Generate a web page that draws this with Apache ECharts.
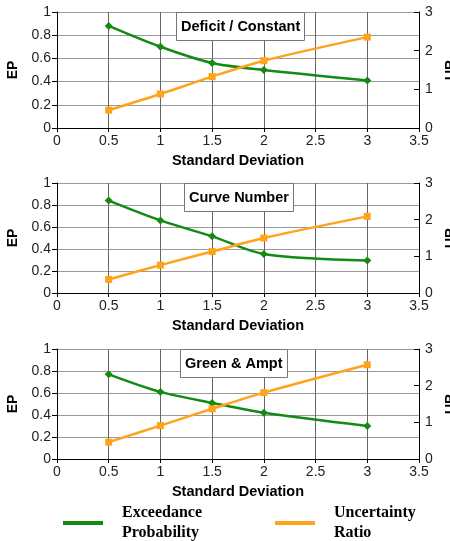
<!DOCTYPE html>
<html>
<head>
<meta charset="utf-8">
<script src="https://cdn.jsdelivr.net/npm/echarts@6/dist/echarts.min.js"></script>
<style>
html,body{margin:0;padding:0;background:#fff;}
#c{width:450px;height:541px;}
</style>
</head>
<body>
<div id="c"></div>
<script>
var sd = [0.5, 1, 1.5, 2, 3];
var panelTitles = ['Deficit / Constant', 'Curve Number', 'Green & Ampt'];
var epDeficit = [0.88, 0.70, 0.56, 0.50, 0.41];
var urDeficit = [0.46, 0.88, 1.33, 1.74, 2.35];
var epCurve = [0.84, 0.66, 0.515, 0.355, 0.295];
var urCurve = [0.37, 0.76, 1.13, 1.50, 2.09];
var epGreen = [0.77, 0.61, 0.51, 0.42, 0.30];
var urGreen = [0.46, 0.91, 1.37, 1.81, 2.57];
var xTicks = [0, 0.5, 1, 1.5, 2, 2.5, 3, 3.5];
var epTicks = [0, 0.2, 0.4, 0.6, 0.8, 1];
var urTicks = [0, 1, 2, 3];
var epName = 'Exceedance Probability';
var urName = 'Uncertainty Ratio';

var EP = [epDeficit, epCurve, epGreen];
var UR = [urDeficit, urCurve, urGreen];
var green = '#138a13', orange = '#ffa31a';
var font = 'Liberation Sans, Arial, sans-serif';

var grids = [
  {left: 57, right: 31, top: 12, height: 116, containLabel: false, outerBoundsMode: 'none'},
  {left: 57, right: 31, top: 183, height: 110, containLabel: false, outerBoundsMode: 'none'},
  {left: 57, right: 31, top: 349, height: 110, containLabel: false, outerBoundsMode: 'none'}
];
var titlePos = [[176, 12], [184, 183], [180, 349]];

var xAxis = [], yAxis = [], series = [], title = [];
for (var i = 0; i < 3; i++) {
  xAxis.push({
    type: 'value', gridIndex: i, min: xTicks[0], max: xTicks[xTicks.length - 1],
    interval: xTicks[1] - xTicks[0],
    name: 'Standard Deviation', nameLocation: 'middle', nameGap: 25,
    nameTextStyle: {fontFamily: font, fontWeight: 'bold', fontSize: 14.5, color: '#000'},
    axisLine: {show: true, lineStyle: {color: '#000', width: 1}},
    axisTick: {show: true, length: 4, lineStyle: {color: '#000'}},
    axisLabel: {fontFamily: font, fontSize: 14, color: '#222', margin: 6},
    splitLine: {show: true, lineStyle: {color: '#666', width: 1}}
  });
  yAxis.push({
    type: 'value', gridIndex: i, position: 'left', min: epTicks[0], max: epTicks[epTicks.length - 1],
    interval: epTicks[1] - epTicks[0],
    name: 'EP', nameLocation: 'middle', nameGap: 34, nameRotate: 90,
    nameTextStyle: {fontFamily: font, fontWeight: 'bold', fontSize: 14, color: '#000'},
    axisLine: {show: true, lineStyle: {color: '#000', width: 1}},
    axisTick: {show: true, length: 5, lineStyle: {color: '#000'}},
    axisLabel: {fontFamily: font, fontSize: 14, color: '#222', margin: 6},
    splitLine: {show: true, lineStyle: {color: '#999', width: 1}}
  });
  yAxis.push({
    type: 'value', gridIndex: i, position: 'right', min: urTicks[0], max: urTicks[urTicks.length - 1],
    interval: urTicks[1] - urTicks[0],
    name: 'UR', nameLocation: 'middle', nameGap: 20, nameRotate: 90,
    nameTextStyle: {fontFamily: font, fontWeight: 'bold', fontSize: 14, color: '#000'},
    axisLine: {show: true, lineStyle: {color: '#000', width: 1}},
    axisTick: {show: true, inside: true, length: 5, lineStyle: {color: '#000'}},
    axisLabel: {fontFamily: font, fontSize: 14, color: '#222', margin: 6},
    splitLine: {show: false}
  });
  series.push({
    name: epName, type: 'line', xAxisIndex: i, yAxisIndex: 2 * i,
    data: sd.map(function (x, k) { return [x, EP[i][k]]; }),
    smooth: 0.3, symbol: 'diamond', symbolSize: 8,
    lineStyle: {color: green, width: 2.5}, itemStyle: {color: green}, z: 3
  });
  series.push({
    name: urName, type: 'line', xAxisIndex: i, yAxisIndex: 2 * i + 1,
    data: sd.map(function (x, k) { return [x, UR[i][k]]; }),
    smooth: 0.3, symbol: 'rect', symbolSize: 7,
    lineStyle: {color: orange, width: 2.5}, itemStyle: {color: orange}, z: 3
  });
  title.push({
    text: panelTitles[i], left: titlePos[i][0], top: titlePos[i][1],
    padding: [7, 5, 7, 5], backgroundColor: '#fff', borderColor: '#777', borderWidth: 1,
    textStyle: {fontFamily: font, fontWeight: 'bold', fontSize: 14.5, color: '#000'},
    z: 10
  });
}

var legendText = {fontFamily: 'Liberation Serif, Times New Roman, serif', fontWeight: 'bold', fontSize: 16, color: '#000', lineHeight: 20, padding: [0, 0, 0, 14]};
var chart = echarts.init(document.getElementById('c'), null, {renderer: 'canvas'});
chart.setOption({
  animation: false,
  backgroundColor: '#fff',
  title: title,
  grid: grids,
  xAxis: xAxis,
  yAxis: yAxis,
  legend: [
    {data: [{name: epName, icon: 'rect'}], left: 58, top: 498, itemWidth: 40, itemHeight: 4,
     selectedMode: false, textStyle: legendText, formatter: function (n) { return n.replace(' ', '\n'); }},
    {data: [{name: urName, icon: 'rect'}], left: 270, top: 498, itemWidth: 40, itemHeight: 4,
     selectedMode: false, textStyle: legendText, formatter: function (n) { return n.replace(' ', '\n'); }}
  ],
  series: series
});
</script>
</body>
</html>
